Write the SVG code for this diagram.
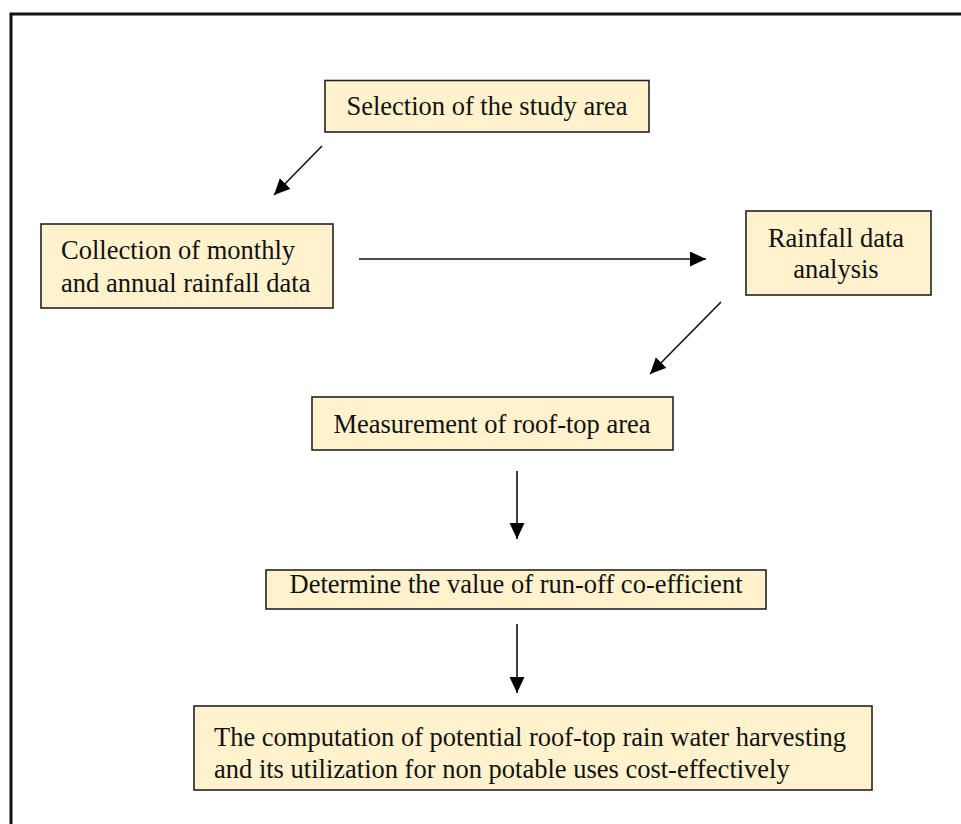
<svg xmlns="http://www.w3.org/2000/svg" width="961" height="824" viewBox="0 0 961 824">
  <defs>
    <style>
      .box { fill: #FFF2CC; stroke: #222; stroke-width: 1.6; }
      .lbl { font-family: "Liberation Serif", "Times New Roman", serif; font-size: 26.5px; fill: #111; }
      .mid { text-anchor: middle; }
      .arrow { stroke: #111; stroke-width: 1.6; fill: none; marker-end: url(#head); }
    </style>
    <marker id="head" markerUnits="userSpaceOnUse" markerWidth="18" markerHeight="16" refX="16" refY="7.5" orient="auto">
      <path d="M0,0 L16,7.5 L0,15 Z" fill="#000"/>
    </marker>
  </defs>

  <rect width="961" height="824" fill="#fff"/>
  <!-- outer frame, running off the right and bottom edges -->
  <path d="M11,830 V14 H970" fill="none" stroke="#111" stroke-width="3"/>

  <g id="n-selection">
    <rect class="box" x="325" y="80.5" width="324" height="51.5"/>
    <text class="lbl mid" x="487" y="115">Selection of the study area</text>
  </g>

  <g id="n-collection">
    <rect class="box" x="41" y="224" width="292" height="84"/>
    <text class="lbl" x="61" y="259">Collection of monthly</text>
    <text class="lbl" x="61" y="292">and annual rainfall data</text>
  </g>

  <g id="n-rainfall">
    <rect class="box" x="746" y="211" width="185" height="84"/>
    <text class="lbl mid" x="836" y="247">Rainfall data</text>
    <text class="lbl mid" x="836" y="278">analysis</text>
  </g>

  <g id="n-measurement">
    <rect class="box" x="312" y="397" width="361" height="53"/>
    <text class="lbl mid" x="492" y="433">Measurement of roof-top area</text>
  </g>

  <g id="n-runoff">
    <rect class="box" x="266" y="570" width="500" height="39"/>
    <text class="lbl mid" x="516" y="593">Determine the value of run-off co-efficient</text>
  </g>

  <g id="n-computation">
    <rect class="box" x="194" y="706" width="678" height="84"/>
    <text class="lbl" x="214" y="746">The computation of potential roof-top rain water harvesting</text>
    <text class="lbl" x="214" y="778">and its utilization for non potable uses cost-effectively</text>
  </g>

  <g id="connectors">
    <line class="arrow" x1="322" y1="146" x2="274" y2="195"/>
    <line class="arrow" x1="359" y1="259" x2="706" y2="259"/>
    <line class="arrow" x1="721" y1="302" x2="650" y2="374"/>
    <line class="arrow" x1="517" y1="471" x2="517" y2="539"/>
    <line class="arrow" x1="517" y1="624" x2="517" y2="693"/>
  </g>
</svg>
